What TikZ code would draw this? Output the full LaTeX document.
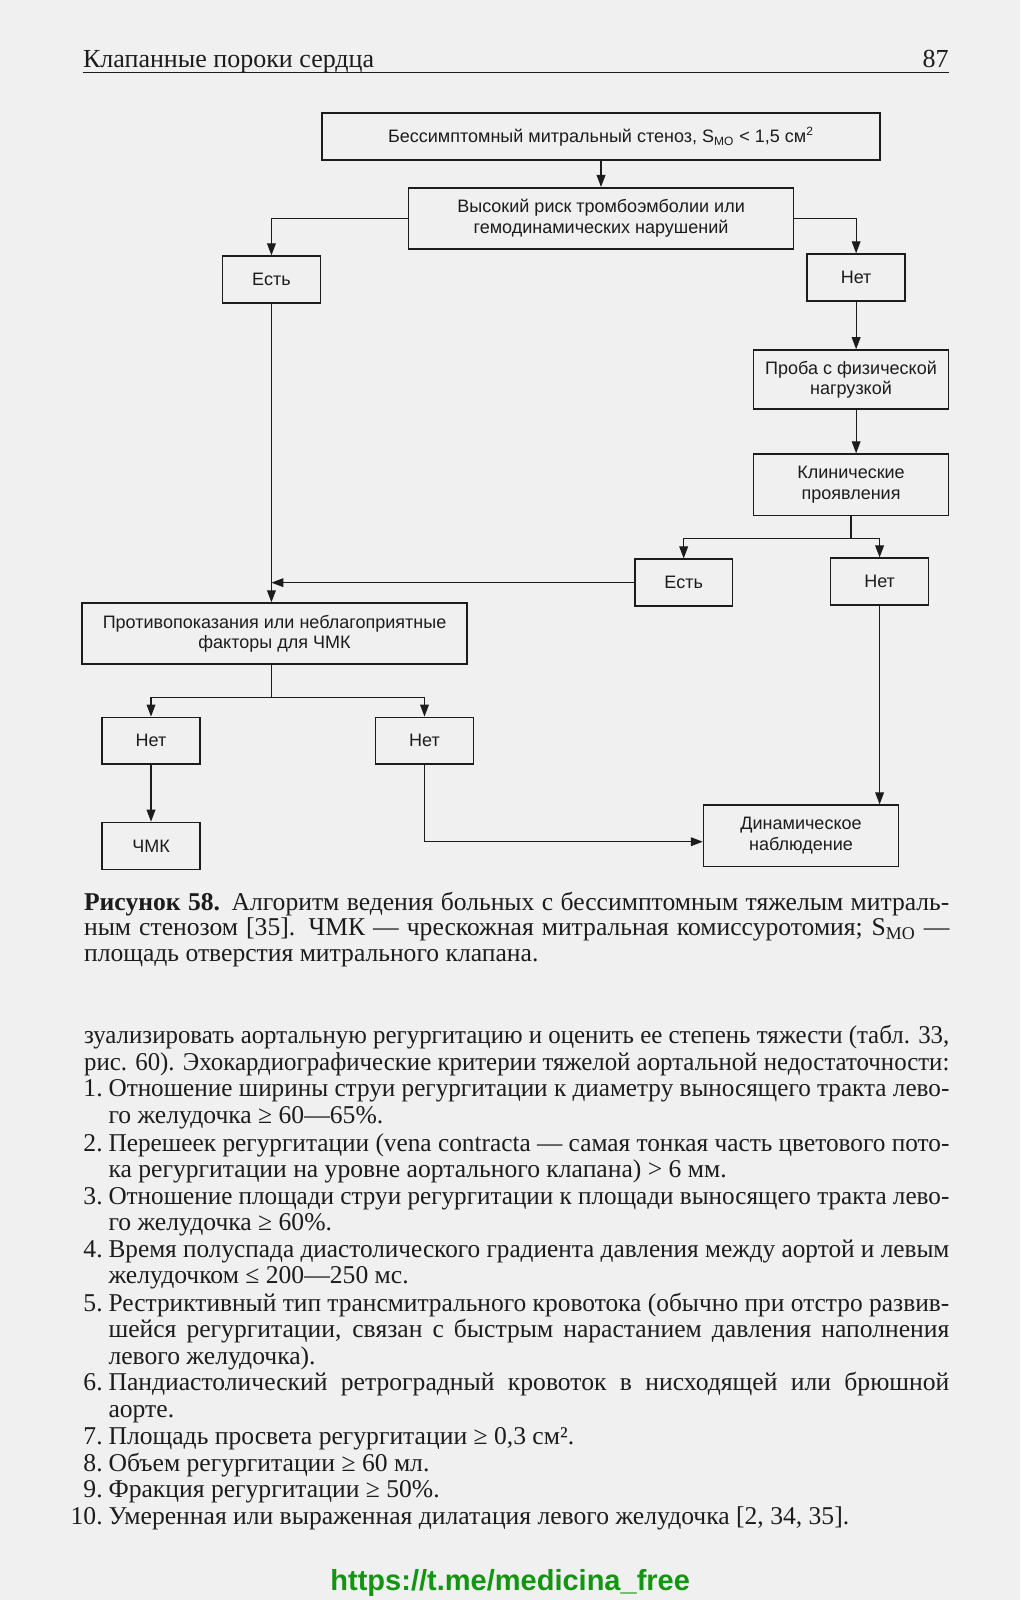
\documentclass[tikz,border=0pt]{standalone}
\usepackage{fontspec}
\usepackage{graphicx}
\setmainfont{Liberation Serif}
\newfontfamily\boxfont{Liberation Sans}
\usetikzlibrary{arrows.meta, calc}
\definecolor{pagebg}{RGB}{240, 240, 240}
\definecolor{ink}{RGB}{28, 28, 28}
\definecolor{linkgreen}{RGB}{18, 150, 18}
\newlength\pxu
\setlength\pxu{0.51pt}
\newlength\natw
% one justified line of given width
\newcommand\jline[2]{\settowidth\natw{#2}\ifdim\natw>#1\relax\resizebox{#1}{\height}{#2}\else\makebox[#1][s]{#2}\fi}

\begin{document}
\begin{tikzpicture}[x=0.51pt, y=-0.51pt, color=ink,
  box/.style={draw, line width=0.8pt, align=center, inner sep=0pt,
    font=\boxfont\fontsize{9}{10.2}\selectfont},
  smallbox/.style={box, minimum width=96\pxu, minimum height=46\pxu},
  midbox/.style={box, minimum width=191\pxu, minimum height=60\pxu},
  widebox/.style={box, minimum width=377\pxu, minimum height=60\pxu},
  flow/.style={line width=0.55pt, -{Triangle[length=6pt, width=4.4pt]}},
  ln/.style={line width=0.55pt},
  txt/.style={anchor=base west, inner sep=0pt, font=\fontsize{12.8}{13}\selectfont},
  num/.style={anchor=base east, inner sep=0pt, font=\fontsize{12.8}{13}\selectfont}]
  \fill[pagebg] (0, 0) rectangle (1000, 1568);
  \useasboundingbox (0, 0) rectangle (1000, 1568);

  % running head
  \node[txt, font=\fontsize{13}{14}\selectfont] (head) at (81, 66) {Клапанные пороки сердца};
  \node[num, font=\fontsize{13}{14}\selectfont] (page) at (930, 66) {87};
  \draw[line width=0.6pt] (81, 71) -- (930, 71);

  % flowchart
  \node[box, minimum width=547\pxu, minimum height=46\pxu] (start) at (589, 134)
    {Бессимптомный митральный стеноз, S\textsubscript{МО} < 1,5 см\textsuperscript{2}};
  \node[widebox] (risk) at (589, 214) {Высокий риск тромбоэмболии или\\гемодинамических нарушений};
  \node[smallbox] (esta) at (266, 274) {Есть};
  \node[smallbox] (neta) at (839, 272) {Нет};
  \node[midbox, minimum height=58\pxu] (proba) at (834, 372) {Проба с физической\\нагрузкой};
  \node[midbox] (clin) at (834, 475) {Клинические\\проявления};
  \node[smallbox] (estb) at (670, 571) {Есть};
  \node[smallbox] (netb) at (862, 570) {Нет};
  \node[widebox] (contra) at (269, 621) {Противопоказания или неблагоприятные\\факторы для ЧМК};
  \node[smallbox] (netc) at (148, 726) {Нет};
  \node[smallbox] (netd) at (416, 726) {Нет};
  \node[smallbox] (chmk) at (148, 829) {ЧМК};
  \node[midbox] (dyn) at (785, 819) {Динамическое\\наблюдение};

  \draw[flow] (start) -- (risk);
  \draw[flow] (risk.west) -| (esta);
  \draw[flow] (risk.east) -| (neta);
  \draw[flow] (neta.south) -- (neta.south |- proba.north);
  \draw[flow] (neta.south |- proba.south) -- (neta.south |- clin.north);
  \draw[ln] (clin.south) -- ++(0, 22) coordinate (splitA);
  \draw[flow] (splitA) -| (estb);
  \draw[flow] (splitA) -| (netb);
  \draw[flow] (esta) -- (esta |- contra.north);
  \draw[flow] (estb) -- (estb -| esta);
  \draw[ln] (esta |- contra.south) -- ++(0, 32) coordinate (splitB);
  \draw[flow] (splitB) -| (netc);
  \draw[flow] (splitB) -| (netd);
  \draw[flow] (netc) -- (chmk);
  \draw[flow] (netd) |- ([yshift=-3pt]dyn.west);
  \draw[flow] (netb) -- (netb |- dyn.north);

  % caption
  \node[txt] (cap1) at (82, 892)
    {\jline{848\pxu}{\textbf{Рисунок 58.} Алгоритм ведения больных с бессимптомным тяжелым митраль-}};
  \node[txt] (cap2) at (82, 917)
    {\jline{848\pxu}{ным стенозом [35]. ЧМК — чрескожная митральная комиссуротомия; S\textsubscript{МО} —}};
  \node[txt] (cap3) at (82, 942) {площадь отверстия митрального клапана.};

  % body text
  \node[txt] (l0) at (82, 1023) {\jline{848\pxu}{зуализировать аортальную регургитацию и оценить ее степень тяжести (табл. 33,}};
  \node[txt] (l1) at (82, 1049) {\jline{848\pxu}{рис. 60). Эхокардиографические критерии тяжелой аортальной недостаточности:}};
  \node[num] (n1) at (101, 1075) {1.};
  \node[txt] (l2) at (106, 1075) {\jline{824\pxu}{Отношение ширины струи регургитации к диаметру выносящего тракта лево-}};
  \node[txt] (l3) at (106, 1101) {го желудочка ≥ 60—65\%.};
  \node[num] (n2) at (101, 1128) {2.};
  \node[txt] (l4) at (106, 1128) {\jline{824\pxu}{Перешеек регургитации (vena contracta — самая тонкая часть цветового пото-}};
  \node[txt] (l5) at (106, 1154) {ка регургитации на уровне аортального клапана) > 6 мм.};
  \node[num] (n3) at (101, 1180) {3.};
  \node[txt] (l6) at (106, 1180) {\jline{824\pxu}{Отношение площади струи регургитации к площади выносящего тракта лево-}};
  \node[txt] (l7) at (106, 1206) {го желудочка ≥ 60\%.};
  \node[num] (n4) at (101, 1232) {4.};
  \node[txt] (l8) at (106, 1232) {\jline{824\pxu}{Время полуспада диастолического градиента давления между аортой и левым}};
  \node[txt] (l9) at (106, 1258) {желудочком ≤ 200—250 мс.};
  \node[num] (n5) at (101, 1285) {5.};
  \node[txt] (l10) at (106, 1285) {\jline{824\pxu}{Рестриктивный тип трансмитрального кровотока (обычно при отстро развив-}};
  \node[txt] (l11) at (106, 1311) {\jline{824\pxu}{шейся регургитации, связан с быстрым нарастанием давления наполнения}};
  \node[txt] (l12) at (106, 1337) {левого желудочка).};
  \node[num] (n6) at (101, 1363) {6.};
  \node[txt] (l13) at (106, 1363) {\jline{824\pxu}{Пандиастолический ретроградный кровоток в нисходящей или брюшной}};
  \node[txt] (l14) at (106, 1389) {аорте.};
  \node[num] (n7) at (101, 1416) {7.};
  \node[txt] (l15) at (106, 1416) {Площадь просвета регургитации ≥ 0,3 см².};
  \node[num] (n8) at (101, 1442) {8.};
  \node[txt] (l16) at (106, 1442) {Объем регургитации ≥ 60 мл.};
  \node[num] (n9) at (101, 1468) {9.};
  \node[txt] (l17) at (106, 1468) {Фракция регургитации ≥ 50\%.};
  \node[num] (n10) at (101, 1494) {10.};
  \node[txt] (l18) at (106, 1494) {Умеренная или выраженная дилатация левого желудочка [2, 34, 35].};

  % link
  \node[anchor=base, inner sep=0pt, color=linkgreen, font=\boxfont\bfseries\fontsize{14.5}{16}\selectfont]
    (link) at (500, 1559) {https://t.me/medicina\_free};
\end{tikzpicture}
\end{document}
